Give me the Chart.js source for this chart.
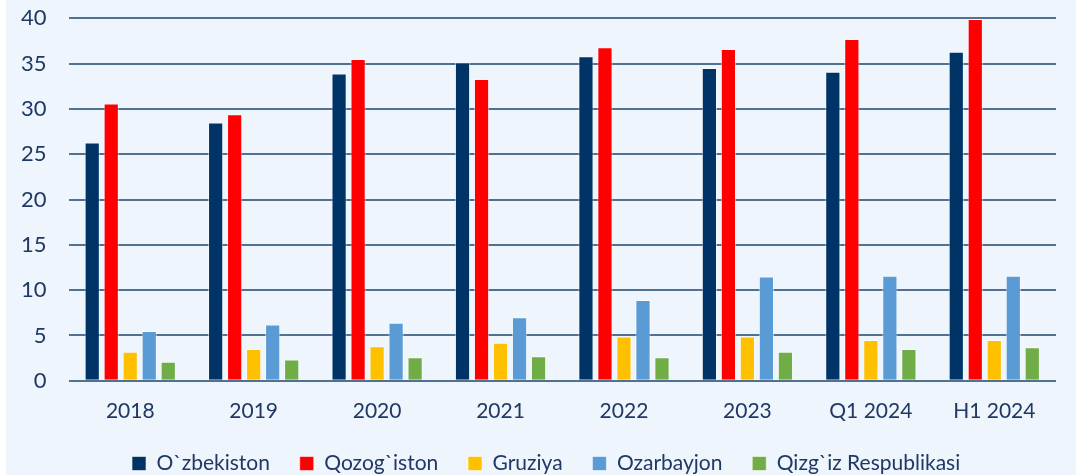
<!DOCTYPE html>
<html>
<head>
<meta charset="utf-8">
<script src="https://cdn.jsdelivr.net/npm/chart.js@4"></script>
<style>
  html, body { margin: 0; padding: 0; background: #ffffff; overflow: hidden; }
  #bg { position: absolute; left: 6px; top: 0; width: 1070px; height: 475px; background: #eef5fc; }
  #wrap { position: absolute; left: -1px; top: -17px; width: 1077px; height: 501px; }
</style>
</head>
<body>
<div id="bg"></div>
<div id="wrap"><canvas id="chart"></canvas></div>
<script>
const categories = ["2018", "2019", "2020", "2021", "2022", "2023", "Q1 2024", "H1 2024"];
const uzbekistan = [26.3, 28.5, 33.9, 35.1, 35.8, 34.5, 34.1, 36.3];
const kazakhstan = [30.6, 29.4, 35.5, 33.3, 36.8, 36.6, 37.7, 39.9];
const georgia = [3.2, 3.5, 3.8, 4.2, 4.9, 4.9, 4.5, 4.5];
const azerbaijan = [5.5, 6.2, 6.4, 7.0, 8.9, 11.5, 11.6, 11.6];
const kyrgyzstan = [2.1, 2.35, 2.6, 2.7, 2.6, 3.2, 3.5, 3.7];
const yTicks = [0, 5, 10, 15, 20, 25, 30, 35, 40];

const ink = "#1f3864";

function series(label, data, color) {
  return {
    label,
    data,
    backgroundColor: color,
    borderColor: "rgba(255,255,255,0.55)",
    borderWidth: 1,
    categoryPercentage: 0.77,
    barPercentage: 0.8,
  };
}

new Chart(document.getElementById("chart"), {
  type: "bar",
  data: {
    labels: categories,
    datasets: [
      series("O`zbekiston", uzbekistan, "#003366"),
      series("Qozog`iston", kazakhstan, "#ff0000"),
      series("Gruziya", georgia, "#ffc000"),
      series("Ozarbayjon", azerbaijan, "#5b9bd5"),
      series("Qizg`iz Respublikasi", kyrgyzstan, "#70ad47"),
    ],
  },
  options: {
    responsive: true,
    maintainAspectRatio: false,
    animation: false,
    devicePixelRatio: 1,
    layout: { padding: { top: 8, right: 20, left: 0, bottom: 0 } },
    plugins: {
      tooltip: { enabled: false },
      legend: {
        position: "bottom",
        fullSize: false,
        labels: {
          color: ink,
          font: { family: "Lato", size: 21 },
          boxWidth: 14,
          boxHeight: 14,
          padding: 19,
          // trailing spaces: wider gaps between items, last one nudges the row left
          generateLabels: (chart) => {
            const items = Chart.defaults.plugins.legend.labels.generateLabels(chart);
            items.forEach((it, i) => { it.text += i < items.length - 1 ? "  " : "      "; });
            return items;
          },
        },
      },
    },
    scales: {
      x: {
        grid: { display: false },
        border: { display: false },
        ticks: { color: ink, font: { family: "Lato", size: 21 }, padding: 10 },
      },
      y: {
        min: 0,
        max: 40,
        afterBuildTicks: (axis) => { axis.ticks = yTicks.map((v) => ({ value: v })); },
        grid: { color: "#52708f", lineWidth: 2, drawTicks: false },
        border: { display: false },
        ticks: { color: ink, font: { family: "Lato", size: 22 }, padding: 22 },
      },
    },
  },
});
</script>
</body>
</html>
